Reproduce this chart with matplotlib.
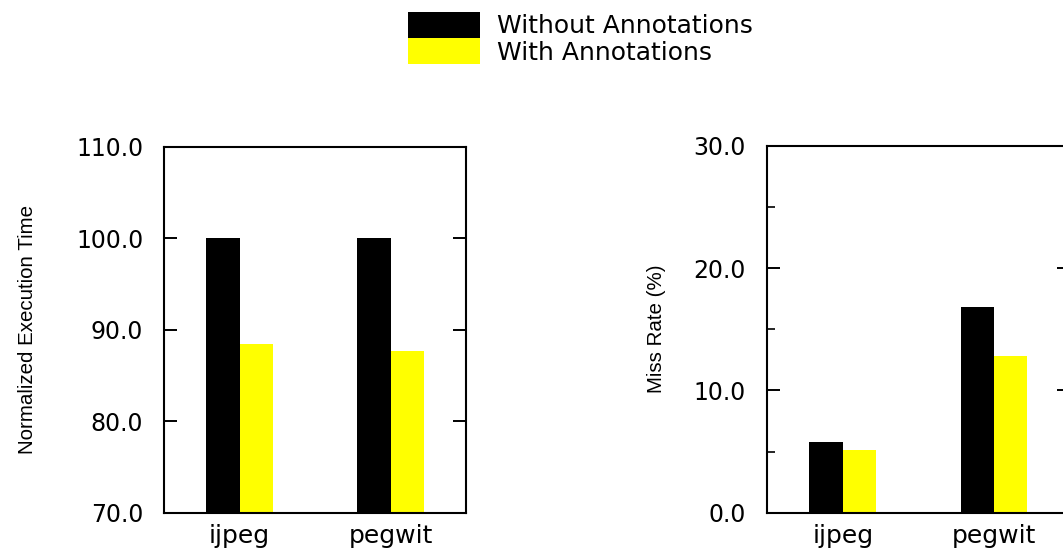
import numpy as np
import matplotlib.pyplot as plt
from matplotlib import font_manager
from matplotlib.patches import Patch

benchmarks = ['ijpeg', 'pegwit']
series_names = ['Without Annotations', 'With Annotations']
series_colors = ['#000000', '#ffff00']

exec_without = [100.0, 100.0]
exec_with = [88.5, 87.7]

miss_without = [5.8, 16.8]
miss_with = [5.1, 12.8]

plt.rcParams['font.family'] = 'DejaVu Sans'

# etiqueta del eje y: fuente estrecha si existe
nombres = {f.name for f in font_manager.fontManager.ttflist}
if 'Liberation Sans Narrow' in nombres:
    fam_ylab, tam_ylab = 'Liberation Sans Narrow', 18
else:
    fam_ylab, tam_ylab = 'Liberation Sans', 14.8

fig = plt.figure(figsize=(10.63, 5.5), dpi=100)
ax1 = fig.add_axes([0.1543, 0.0673, 0.2841, 0.6655])
ax2 = fig.add_axes([0.7215, 0.0678, 0.2850, 0.6673])

x = np.arange(len(benchmarks))
w = 0.22


def dibujar(ax, sin, con, ylim, major, minor, ylabel, lx):
    ax.bar(x - w/2, sin, w, color=series_colors[0], zorder=2)
    ax.bar(x + w/2, con, w, color=series_colors[1], zorder=2)
    ax.set_xlim(-0.5, 1.5)
    ax.set_ylim(*ylim)
    ax.set_xticks(x)
    ax.set_xticklabels(benchmarks, fontsize=18)
    ax.set_yticks(major)
    ax.set_yticklabels([f'{v:.1f}' for v in major], fontsize=17)
    if minor is not None:
        ax.set_yticks(minor, minor=True)
    ax.tick_params(axis='y', which='major', direction='in', left=True, right=True,
                   length=9.5, width=1.4, pad=15)
    ax.tick_params(axis='y', which='minor', direction='in', left=True, right=False,
                   length=5.5, width=1.2)
    ax.tick_params(axis='x', length=0, pad=8)
    for s in ax.spines.values():
        s.set_linewidth(1.5)
    ax.set_ylabel(ylabel, fontsize=tam_ylab, family=fam_ylab)
    ax.yaxis.set_label_coords(lx, 0.5)


dibujar(ax1, exec_without, exec_with, (70, 110), [70, 80, 90, 100, 110], None,
        'Normalized Execution Time', -0.42)
dibujar(ax2, miss_without, miss_with, (0, 30), [0, 10, 20, 30], [5, 15, 25],
        'Miss Rate (%)', -0.333)

handles = [Patch(facecolor=c, edgecolor='none') for c in series_colors]
fig.legend(handles, series_names, loc='upper left', bbox_to_anchor=(0.3838, 0.978),
           frameon=False, fontsize=18, borderpad=0, borderaxespad=0,
           handlelength=2.9, handleheight=1.2, handletextpad=0.68, labelspacing=0)

fig.savefig('out.png', dpi=100)
